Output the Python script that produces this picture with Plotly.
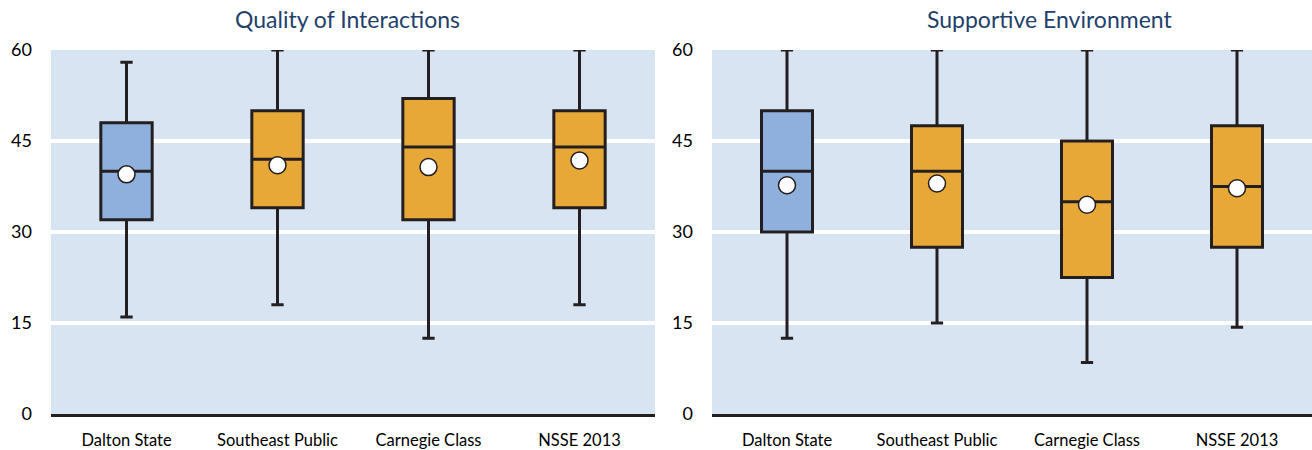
import plotly.graph_objects as go

categories = ["Dalton State", "Southeast Public", "Carnegie Class", "NSSE 2013"]
titles = ["Quality of Interactions", "Supportive Environment"]

# Quality of Interactions
qi_low = [16, 18, 12.5, 18]
qi_q1 = [32, 34, 32, 34]
qi_median = [40, 42, 44, 44]
qi_q3 = [48, 50, 52, 50]
qi_high = [58, 60, 60, 60]
qi_mean = [39.5, 41.0, 40.7, 41.8]

# Supportive Environment
se_low = [12.5, 15, 8.5, 14.3]
se_q1 = [30, 27.5, 22.5, 27.5]
se_median = [40, 40, 35, 37.5]
se_q3 = [50, 47.5, 45, 47.5]
se_high = [60, 60, 60, 60]
se_mean = [37.7, 38.0, 34.5, 37.2]

yticks = [0, 15, 30, 45, 60]

BLUE = "#8fb0dc"
ORANGE = "#e8a838"
LINE = "#231f20"
BG = "#d9e4f3"
FONT = "Lato"

fig = go.Figure()

panels = [
    (qi_low, qi_q1, qi_median, qi_q3, qi_high, qi_mean, "x", "y"),
    (se_low, se_q1, se_median, se_q3, se_high, se_mean, "x2", "y2"),
]

for low, q1, med, q3, high, mean, xa, ya in panels:
    for i, cat in enumerate(categories):
        fig.add_trace(go.Box(
            x=[cat], lowerfence=[low[i]], q1=[q1[i]], median=[med[i]],
            q3=[q3[i]], upperfence=[high[i]],
            fillcolor=BLUE if i == 0 else ORANGE,
            line=dict(color=LINE, width=3),
            width=0.34, whiskerwidth=0.24,
            boxpoints=False, showlegend=False, hoverinfo="skip",
            xaxis=xa, yaxis=ya,
        ))
    fig.add_trace(go.Scatter(
        x=categories, y=mean, mode="markers",
        marker=dict(size=17, color="white", line=dict(color=LINE, width=1.5)),
        showlegend=False, hoverinfo="skip", xaxis=xa, yaxis=ya,
    ))

# body margin removed below, so figure coordinates = screen coordinates
W, H = 1312, 450
ml, mr, mt, mb = 51, 0, 50, 450 - 414
pw = W - ml - mr
ph = H - mt - mb
d1 = [0, (655 - 51) / pw]
d2 = [(712 - 51) / pw, 1]

xcommon = dict(
    type="category", categoryorder="array", categoryarray=categories,
    range=[-0.5, len(categories) - 0.5],
    showgrid=False, zeroline=False, showline=True, linecolor=LINE, linewidth=3,
    ticks="", tickfont=dict(family=FONT, size=16.5, color="#000000"),
    ticklabelstandoff=9, automargin=False, fixedrange=True,
)
ycommon = dict(
    range=[0, 60], tickvals=yticks, showgrid=True, gridcolor="white", gridwidth=4,
    zeroline=False, showline=False, ticks="",
    tickfont=dict(family=FONT, size=18, color="#000000"),
    ticklabelstandoff=18, automargin=False, fixedrange=True,
)

title_y = 1 + (mt - 19) / ph
fig.update_layout(
    width=W, height=H,
    margin=dict(l=ml, r=mr, t=mt, b=mb),
    paper_bgcolor="white", plot_bgcolor=BG,
    boxmode="overlay",
    xaxis=dict(domain=d1, anchor="y", **xcommon),
    xaxis2=dict(domain=d2, anchor="y2", **xcommon),
    yaxis=dict(domain=[0, 1], anchor="x", **ycommon),
    yaxis2=dict(domain=[0, 1], anchor="x2", **ycommon),
    annotations=[
        dict(text=titles[0], x=(347 - 51) / pw, y=title_y, xref="paper", yref="paper",
             showarrow=False, xanchor="center", yanchor="middle",
             font=dict(family=FONT, size=23, color="#243f6b")),
        dict(text=titles[1], x=(1049 - 51) / pw, y=title_y, xref="paper", yref="paper",
             showarrow=False, xanchor="center", yanchor="middle",
             font=dict(family=FONT, size=23, color="#243f6b")),
    ],
)

fig.write_html("out.html", config={"displayModeBar": False},
               post_script="document.body.style.margin='0';")
